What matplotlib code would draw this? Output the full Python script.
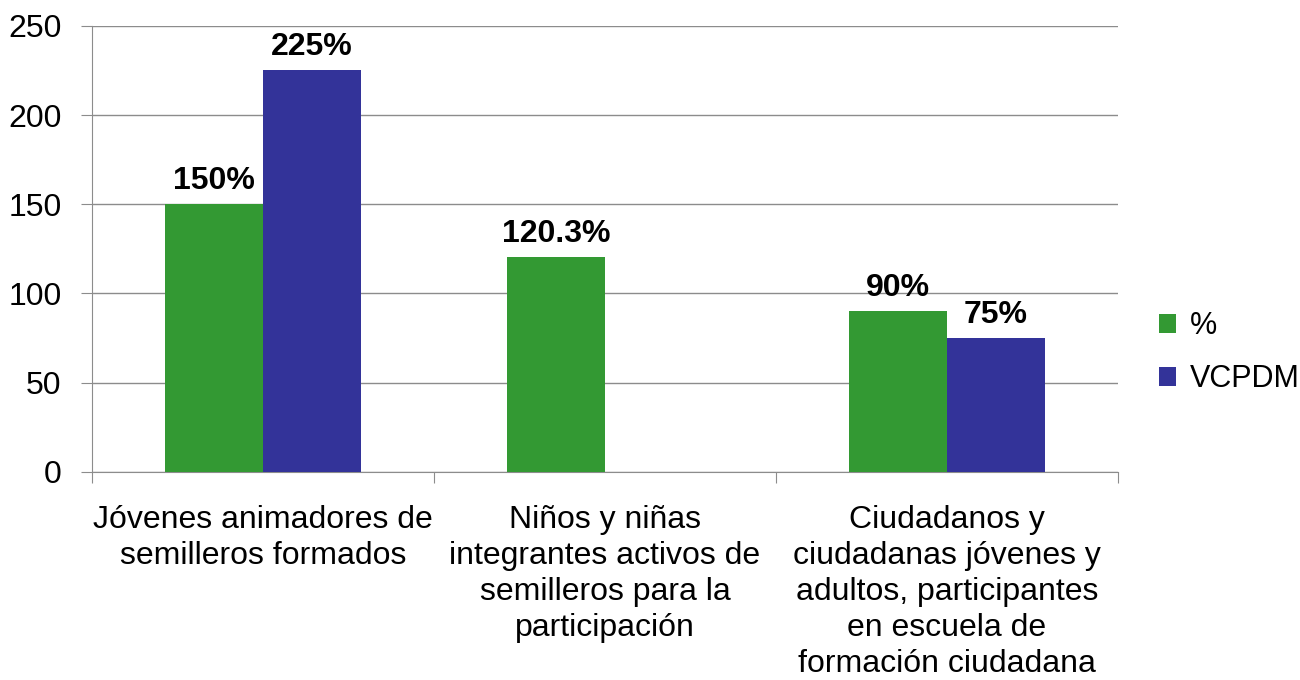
import matplotlib.pyplot as plt
import numpy as np

plt.rcParams["font.family"] = ["Liberation Sans", "DejaVu Sans"]

categories = [
    "Jóvenes animadores de\nsemilleros formados",
    "Niños y niñas\nintegrantes activos de\nsemilleros para la\nparticipación",
    "Ciudadanos y\nciudadanas jóvenes y\nadultos, participantes\nen escuela de\nformación ciudadana",
]
pct = [150, 120.3, 90]
vcpdm = [225, None, 75]
pct_labels = ["150%", "120.3%", "90%"]
vcpdm_labels = ["225%", None, "75%"]

GREEN = "#339933"
BLUE = "#333399"
GRID = "#8c8c8c"

fig = plt.figure(figsize=(13, 6.8), dpi=100)
ax = fig.add_axes([0.0708, 0.306, 0.7892, 0.656])

x = np.arange(len(categories))
w = 0.287

gx = x - w / 2
bx = [xi + w / 2 for xi, v in zip(x, vcpdm) if v is not None]
bv = [v for v in vcpdm if v is not None]
bl = [l for l in vcpdm_labels if l is not None]

ax.bar(gx, pct, width=w, color=GREEN, label="%", zorder=3)
ax.bar(bx, bv, width=w, color=BLUE, label="VCPDM", zorder=3)

for xi, v, lab in zip(gx, pct, pct_labels):
    ax.text(xi, v + 4.5, lab, ha="center", va="bottom", fontsize=23,
            fontweight="bold")
for xi, v, lab in zip(bx, bv, bl):
    ax.text(xi, v + 4.5, lab, ha="center", va="bottom", fontsize=23,
            fontweight="bold")

ax.set_xlim(-0.5, 2.5)
ax.set_ylim(0, 250)
ax.set_yticks(range(0, 251, 50))
ax.yaxis.grid(True, color=GRID, lw=1)
ax.set_axisbelow(True)
for s in ["top", "right"]:
    ax.spines[s].set_visible(False)
ax.spines["left"].set_color(GRID)
ax.spines["bottom"].set_color(GRID)

ax.set_xticks([-0.5, 0.5, 1.5, 2.5])
ax.set_xticklabels([])
ax.set_xticks(x, minor=True)
ax.set_xticklabels(categories, minor=True, fontsize=23, linespacing=1.26)
ax.tick_params(axis="x", which="major", length=8, color=GRID)
ax.tick_params(axis="x", which="minor", length=0, pad=24)
ax.tick_params(axis="y", length=8, color=GRID, labelsize=23, pad=14)

ax.legend(loc="center left", bbox_to_anchor=(1.04, 0.267), frameon=False,
          fontsize=22, handlelength=0.55, handleheight=0.55, handletextpad=0.45,
          labelspacing=0.75, borderaxespad=0, borderpad=0)

fig.savefig("out.png", dpi=100)
